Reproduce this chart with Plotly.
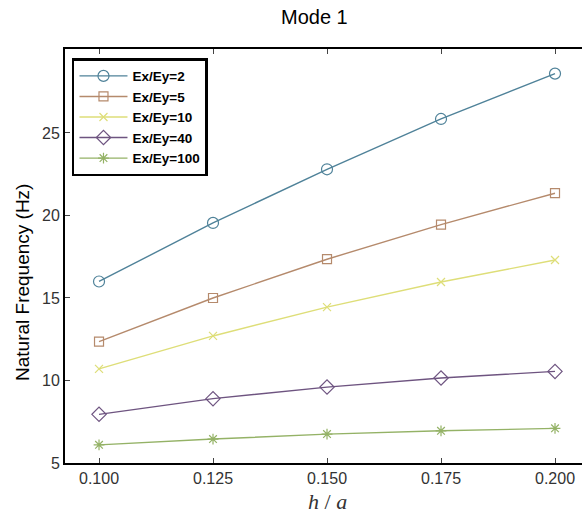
import plotly.graph_objects as go

h_a = [0.100, 0.125, 0.150, 0.175, 0.200]
ratio_2 = [16.0, 19.55, 22.8, 25.85, 28.6]
ratio_5 = [12.35, 15.0, 17.35, 19.45, 21.35]
ratio_10 = [10.7, 12.7, 14.45, 15.97, 17.3]
ratio_40 = [7.95, 8.9, 9.6, 10.15, 10.55]
ratio_100 = [6.1, 6.45, 6.75, 6.95, 7.1]
series_names = ["Ex/Ey=2", "Ex/Ey=5", "Ex/Ey=10", "Ex/Ey=40", "Ex/Ey=100"]
x_ticks = [0.100, 0.125, 0.150, 0.175, 0.200]
y_ticks = [5, 10, 15, 20, 25]

series = [ratio_2, ratio_5, ratio_10, ratio_40, ratio_100]
colors = ["#4f8299", "#b58a6c", "#dede78", "#6e5480", "#94b266"]
symbols = ["circle-open", "square-open", "x-thin-open", "diamond-open", "asterisk-open"]
sizes = [11, 9, 8, 11, 9]

fig = go.Figure()
for name, ys, c, s, sz in zip(series_names, series, colors, symbols, sizes):
    fig.add_trace(go.Scatter(
        x=h_a, y=ys, name=name, mode="lines+markers",
        line=dict(color=c, width=1.4),
        marker=dict(symbol=s, size=sz, color=c, line=dict(color=c, width=1.2)),
    ))

fig.update_layout(
    width=582, height=513,
    margin=dict(l=65, r=0, t=49, b=50, autoexpand=False),
    paper_bgcolor="white", plot_bgcolor="white",
    font=dict(family="Liberation Sans, Arial", color="#333"),
    showlegend=True,
    legend=dict(
        x=0.0135, y=0.978, xanchor="left", yanchor="top",
        bordercolor="black", borderwidth=2.5, bgcolor="white",
        font=dict(family="Liberation Sans, Arial", size=13.5, color="black", weight="bold"),
        tracegroupgap=0, itemwidth=48,
    ),
    xaxis=dict(
        range=[0.09254, 0.20592], tickvals=x_ticks,
        ticktext=[f"{v:.3f}" for v in x_ticks],
        showline=True, linecolor="black", linewidth=2, mirror="ticks",
        ticks="inside", ticklen=5, tickcolor="#444", tickwidth=1,
        showgrid=False, zeroline=False, automargin=False,
        tickfont=dict(size=16, color="#333"),
    ),
    yaxis=dict(
        range=[5, 30.09], tickvals=y_ticks,
        showline=True, linecolor="black", linewidth=2, mirror=False,
        ticks="inside", ticklen=5, tickcolor="#444", tickwidth=1,
        showgrid=False, zeroline=False, automargin=False,
        tickfont=dict(size=16, color="#333"),
    ),
    annotations=[
        dict(text="Mode 1", x=314, y=17, xref="paper", yref="paper",
             showarrow=False, font=dict(size=20, color="black")),
        dict(text="Natural Frequency (Hz)", textangle=-90, x=22, y=283,
             xref="paper", yref="paper", showarrow=False,
             font=dict(size=19, color="black")),
        dict(text="<i>h</i> / <i>a</i>", x=327, y=501, xref="paper", yref="paper",
             showarrow=False, font=dict(family="Liberation Serif, Times New Roman", size=22, color="#333")),
    ],
)

# convert pixel annotation positions into paper coords
pw = 582 - 65 - 0
ph = 513 - 49 - 50
for a in fig.layout.annotations:
    px, py = a.x, a.y
    a.x = (px - 65) / pw
    a.y = 1 - (py - 49) / ph
    a.xanchor = "center"
    a.yanchor = "middle"

fig.write_html(
    "out.html",
    config={"displayModeBar": False},
    post_script="document.body.style.margin='0';document.body.style.overflow='hidden';",
)
